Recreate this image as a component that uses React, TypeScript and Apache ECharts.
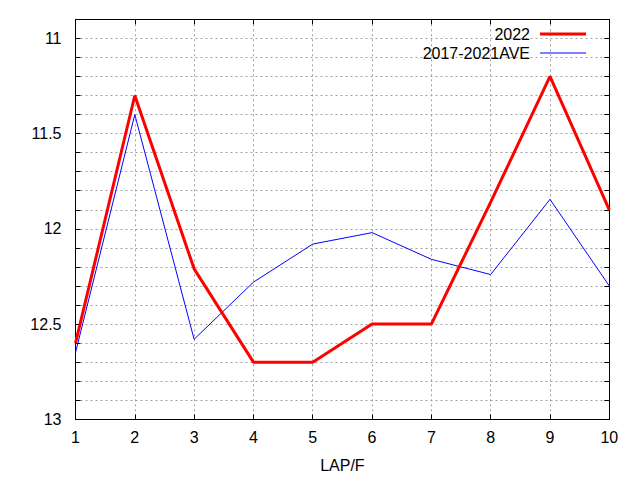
import React, { useEffect, useRef } from "react";
import * as echarts from "echarts";

const laps = [1, 2, 3, 4, 5, 6, 7, 8, 9, 10];
const series2022 = [12.6, 11.3, 12.21, 12.7, 12.7, 12.5, 12.5, 11.86, 11.2, 11.9];
const seriesAve = [12.65, 11.4, 12.58, 12.28, 12.08, 12.02, 12.16, 12.24, 11.845, 12.3];
const seriesNames = ["2022", "2017-2021AVE"];
const xAxisName = "LAP/F";

const FONT = "Liberation Sans, Arial, sans-serif";

export default function App() {
  const ref = useRef<HTMLDivElement>(null);
  useEffect(() => {
    if (!ref.current) return;
    const chart = echarts.init(ref.current, undefined, { renderer: "svg" });
    const gridLine = { show: true, lineStyle: { color: "#a0a0a0", width: 1, type: [2, 3] as any } };
    const yFmt = (v: number) =>
      Math.abs(v * 2 - Math.round(v * 2)) < 1e-6 ? String(Math.round(v * 10) / 10) : "";
    const yBase = {
      type: "value" as const,
      min: 10.9,
      max: 13,
      interval: 0.1,
      inverse: true,
      axisLine: { show: true, lineStyle: { color: "#000", width: 1 } },
      axisTick: { show: true, inside: true, length: 5, lineStyle: { color: "#000" } },
    };
    const xBase = {
      type: "value" as const,
      min: 1,
      max: 10,
      interval: 1,
      axisLine: { show: true, lineStyle: { color: "#000", width: 1 } },
      axisTick: { show: true, inside: true, length: 5, lineStyle: { color: "#000" } },
    };
    const legendBase = {
      orient: "vertical" as const,
      right: 49,
      align: "right" as const,
      itemWidth: 46,
      icon: "rect",
      textStyle: { fontSize: 16, color: "#000", fontFamily: FONT, padding: [0, 5, 0, 0] },
    };
    chart.setOption({
      animation: false,
      textStyle: { fontFamily: FONT },
      grid: { left: 75.5, top: 19.3, right: 30.7, bottom: 60.7 },
      legend: [
        { ...legendBase, top: 21, itemHeight: 3, data: [seriesNames[0]] },
        { ...legendBase, top: 40, itemHeight: 1, data: [seriesNames[1]] },
      ],
      xAxis: [
        {
          ...xBase,
          position: "bottom",
          name: xAxisName,
          nameLocation: "middle",
          nameGap: 38,
          nameTextStyle: { fontSize: 16, color: "#000", fontFamily: FONT },
          axisLabel: { fontSize: 16, color: "#000", margin: 10, fontFamily: FONT },
          splitLine: gridLine,
        },
        {
          ...xBase,
          position: "top",
          axisLabel: { show: false },
          splitLine: { show: false },
        },
      ],
      yAxis: [
        {
          ...yBase,
          position: "left",
          axisLabel: { fontSize: 16, color: "#000", margin: 14, fontFamily: FONT, formatter: yFmt },
          splitLine: gridLine,
        },
        {
          ...yBase,
          position: "right",
          axisLabel: { show: false },
          splitLine: { show: false },
        },
      ],
      series: [
        {
          name: seriesNames[0],
          type: "line",
          data: laps.map((x, i) => [x, series2022[i]]),
          showSymbol: false,
          symbol: "none",
          lineStyle: { color: "#ff0000", width: 3 },
          itemStyle: { color: "#ff0000" },
          z: 3,
        },
        {
          name: seriesNames[1],
          type: "line",
          data: laps.map((x, i) => [x, seriesAve[i]]),
          showSymbol: false,
          symbol: "none",
          lineStyle: { color: "#0000ff", width: 1 },
          itemStyle: { color: "#0000ff" },
          z: 2,
        },
      ],
    });
    return () => chart.dispose();
  }, []);
  return <div ref={ref} style={{ width: 640, height: 480, position: "absolute", left: 0, top: 0, background: "#fff" }} />;
}
